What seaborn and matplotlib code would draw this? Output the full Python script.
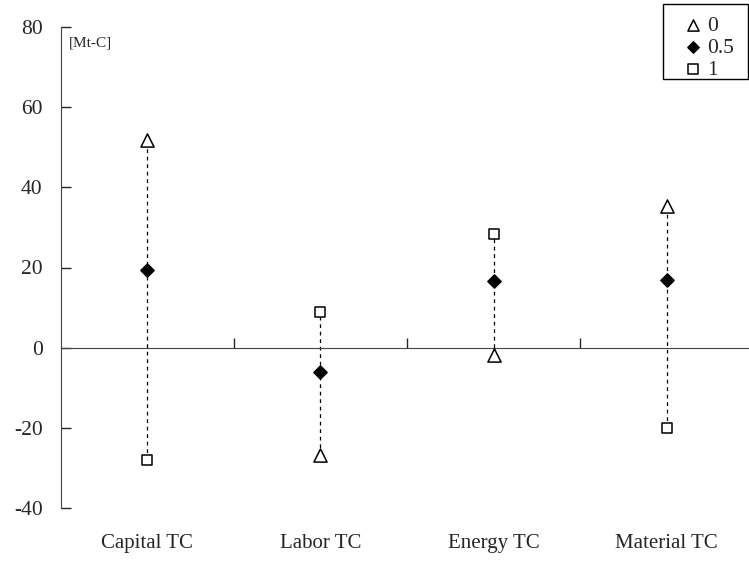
import numpy as np
import seaborn as sns
import matplotlib.pyplot as plt
from matplotlib.patches import Rectangle
from matplotlib.transforms import blended_transform_factory

sns.set_style("white")
plt.rcParams['font.family'] = ['Liberation Serif', 'DejaVu Serif']

# data
categories = ["Capital TC", "Labor TC", "Energy TC", "Material TC"]
vals_0 = [51.7, -26.6, -1.9, 35.2]
vals_05 = [19.3, -6.1, 16.7, 17.0]
vals_1 = [-27.9, 8.9, 28.4, -20.0]
series_names = ["0", "0.5", "1"]

W, H = 749, 563
fig = plt.figure(figsize=(W / 100, H / 100), dpi=100)
ax = fig.add_axes([60.6 / W, 1 - 508.3 / H, 692.7 / W, 481.6 / H])

x = np.arange(len(categories))
all_vals = np.array([vals_0, vals_05, vals_1])
ax.vlines(x, all_vals.min(axis=0), all_vals.max(axis=0), colors="black",
          linestyles=(0, (3, 3)), linewidth=0.9, zorder=1)

styles = [("^", 90, "white"), ("D", 45, "black"), ("s", 60, "white")]
for vals, name, (m, s, fc) in zip([vals_0, vals_05, vals_1], series_names, styles):
    sns.scatterplot(x=x, y=vals, marker=m, s=s, facecolor=fc, edgecolor="black",
                    linewidth=1.1, label=name, ax=ax, zorder=3)

ax.set_xlim(-0.5, 3.5)
ax.set_ylim(-40, 80)
ax.set_yticks([-40, -20, 0, 20, 40, 60, 80])
ax.set_yticklabels(["-40", "-20", "0", "20", "40", "60", "80"])
ax.tick_params(axis="y", direction="in", length=7, width=1, pad=13, labelsize=15.5, left=True)

ax.spines["top"].set_visible(False)
ax.spines["right"].set_visible(False)
ax.spines["bottom"].set_position(("data", 0))
ax.spines["left"].set_color("#444444")
ax.spines["bottom"].set_color("#444444")
ax.set_xticks([0.5, 1.5, 2.5, 3.5])
ax.set_xticklabels([])
ax.tick_params(axis="x", direction="in", length=7, width=1, bottom=True)

trans = blended_transform_factory(ax.transData, ax.transAxes)
for xi, c in zip(x, categories):
    ax.text(xi, -0.073, c, transform=trans, ha="center", va="center", fontsize=15)

ax.text(0.012, 0.966, "[Mt-C]", transform=ax.transAxes, ha="left", va="center", fontsize=11)
ax.set_xlabel("")
ax.set_ylabel("")

# legend without its own frame, box drawn separately
leg = ax.legend(loc="upper left", bbox_to_anchor=(673.6 / W, 1 - 7 / H),
                bbox_transform=fig.transFigure, frameon=False, fontsize=15.5,
                handletextpad=0.15, handlelength=1.0, labelspacing=0.1,
                borderpad=0.4, borderaxespad=0, markerscale=0.85)
fig.patches.append(Rectangle((662.7 / W, 1 - 79 / H), (747.5 - 662.7) / W, 75 / H,
                             transform=fig.transFigure, fill=False,
                             edgecolor="black", linewidth=1))

fig.savefig("out.png", dpi=100)
